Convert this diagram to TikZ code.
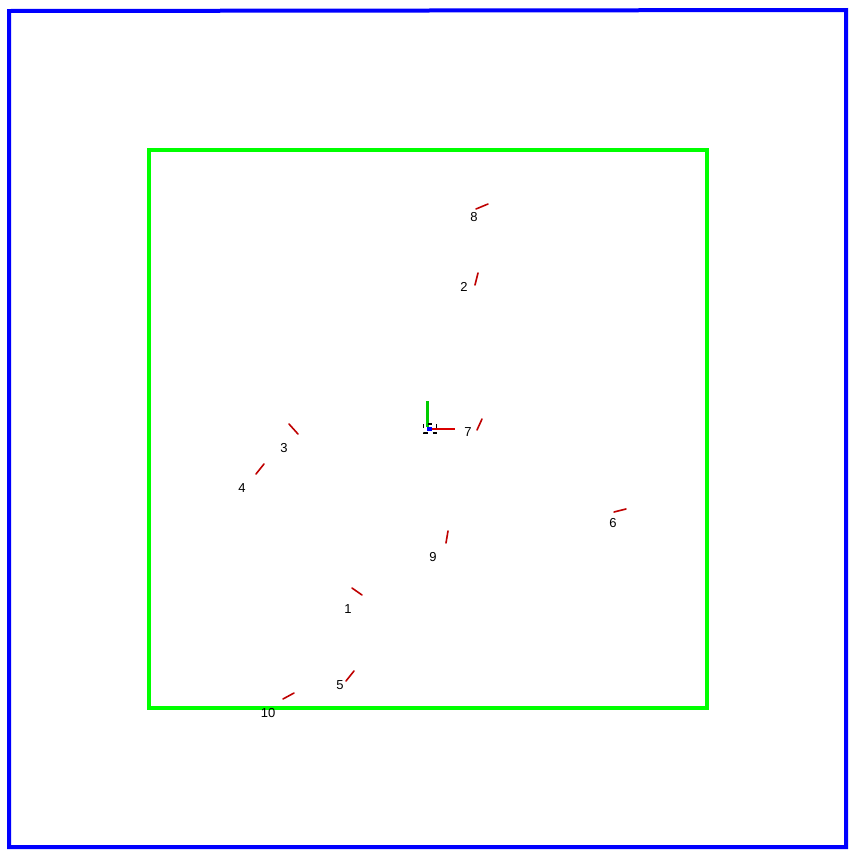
\documentclass[tikz,border=0pt]{standalone}
\usepackage{fontspec}
\setmainfont{Liberation Sans}
\begin{document}
\begin{tikzpicture}[x=1pt,y=-1pt,
  seg/.style={draw=red!75!black,line width=1.6pt,line cap=round},
  lbl/.style={inner sep=0pt,font=\fontsize{13}{13}\selectfont},
  outerbox/.style={draw=blue,line width=4pt},
  innerbox/.style={draw=green,line width=4pt}]
\useasboundingbox (0,0) rectangle (857,857);
\fill[white] (0,0) rectangle (857,857);
\draw[outerbox] (9,11) -- (846,10) -- (846,847) -- (9,847) -- cycle;
\draw[innerbox] (149,150) rectangle (707,708);
% origin frame
\coordinate (oy1) at (427.5,401);
\coordinate (oy2) at (427.5,427);
\coordinate (ox1) at (431,429);
\coordinate (ox2) at (455,429);
\draw[green!80!black,line width=2.6pt] (oy1) -- (oy2);
\draw[red!85!black,line width=2.8pt] (ox1) -- (ox2);
\fill[blue] (427,427) rectangle (432,431);
\draw[black,line width=1.5pt,dash pattern=on 4pt off 5pt] (423.5,424) rectangle (436.5,433);
% segments and labels
\foreach \n/\ax/\ay/\bx/\by/\lx/\ly in {
  8/476/209/488/204/474/217.5,
  2/478/273/475/285/464/286.5,
  3/289/424/298/434/284/448.5,
  4/264/464/256/474/242/488.5,
  9/448/531/446/543/433/557.5,
  1/352/588/362/595/348/609.5,
  5/354/671/346/681/340/685.5,
  10/294/693/283/699/268/713.5,
  6/626/509/614/512/613/523.5,
  7/482/419/477/430/468/432.5}{
  \coordinate (a\n) at (\ax,\ay);
  \coordinate (b\n) at (\bx,\by);
  \draw[seg] (a\n) -- (b\n);
  \node[lbl] (l\n) at (\lx,\ly) {\n};
}
\end{tikzpicture}
\end{document}
